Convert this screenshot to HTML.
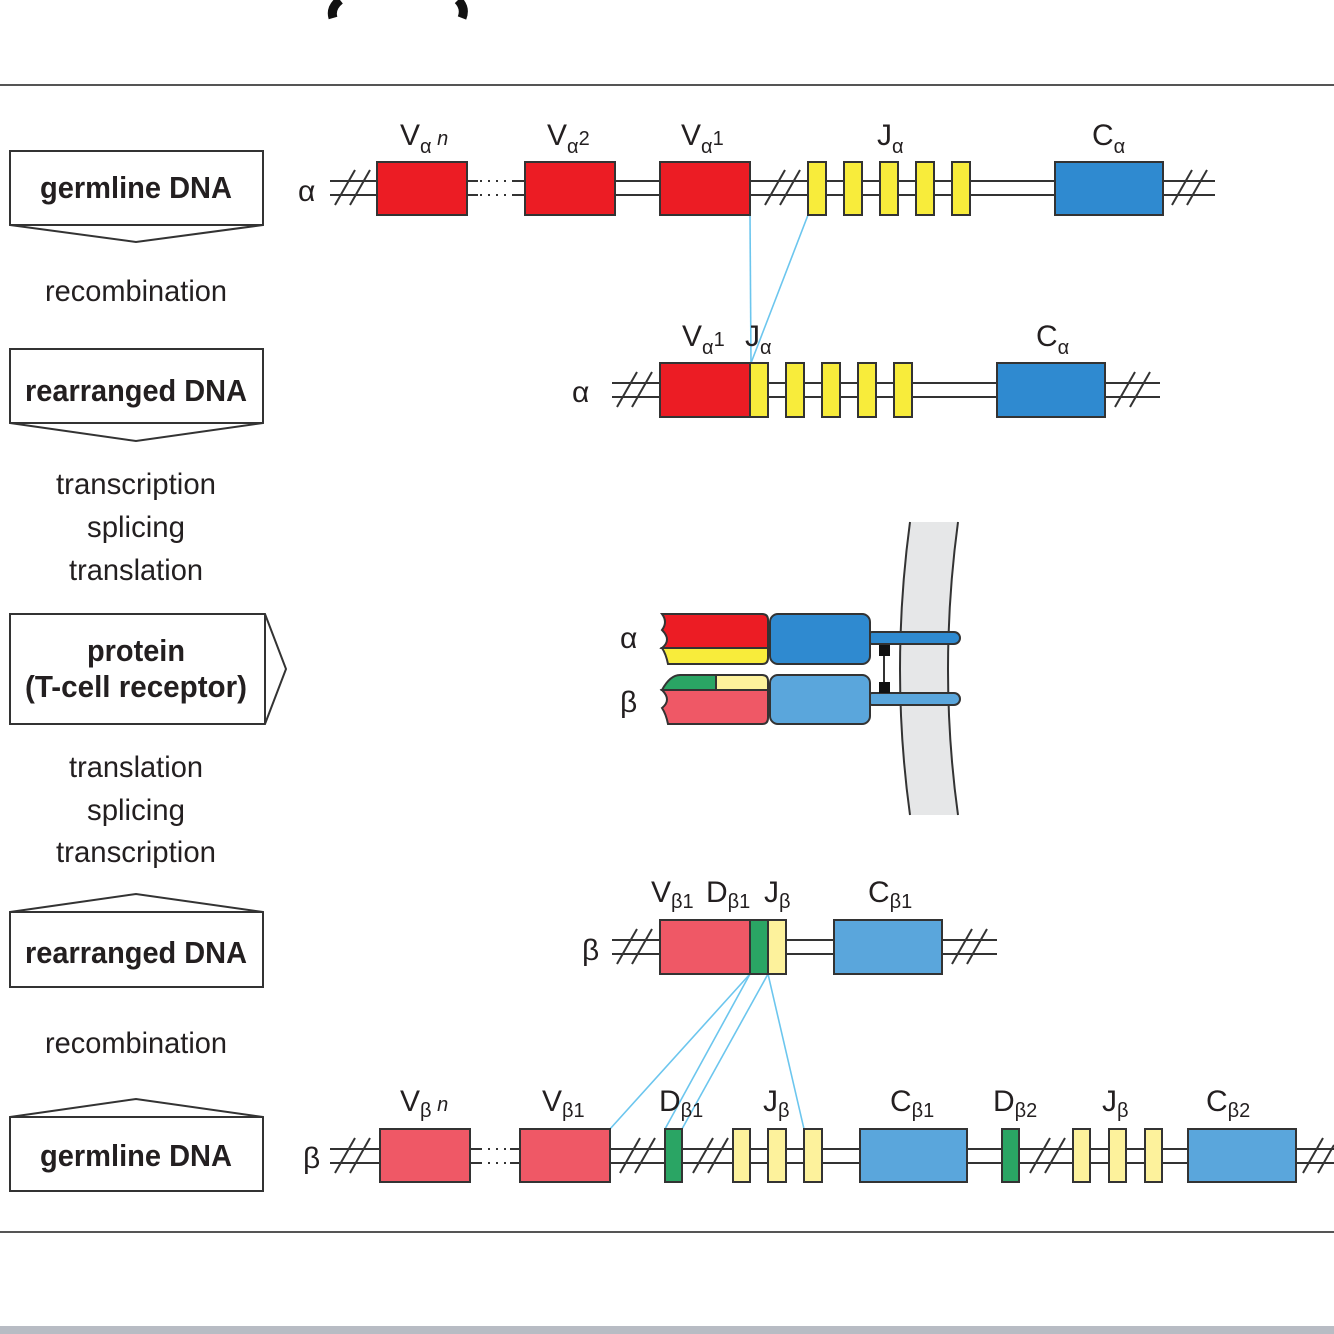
<!DOCTYPE html>
<html><head><meta charset="utf-8"><style>
html,body{margin:0;padding:0;background:#fff;}
svg{display:block;}
text{font-family:"Liberation Sans Narrow","Liberation Sans",sans-serif;fill:#231f20;}
.b{font-weight:bold;font-size:31px;}
.n{font-size:30px;}
.l{font-size:30px;}
.s{font-size:20px;}
</style></head><body>
<svg width="1334" height="1334" viewBox="0 0 1334 1334" xmlns="http://www.w3.org/2000/svg">
<rect width="1334" height="1334" fill="#fff"/>
<!-- top partial parens -->
<path d="M340 0 Q330 8 333 18" stroke="#111" stroke-width="9" fill="none"/>
<path d="M458 0 Q466 8 462 18" stroke="#111" stroke-width="9" fill="none"/>
<line x1="0" y1="85" x2="1334" y2="85" stroke="#555" stroke-width="2"/>
<line x1="0" y1="1232" x2="1334" y2="1232" stroke="#555" stroke-width="2"/>
<rect x="0" y="1326" width="1334" height="8" fill="#b8bcc4"/>

<!-- left boxes -->
<g fill="#fff" stroke="#333" stroke-width="2">
<path d="M10 151 H263 V225 L136 242 L10 225 Z"/>
<line x1="10" y1="225" x2="263" y2="225"/>
<path d="M10 349 H263 V423 L136 441 L10 423 Z"/>
<line x1="10" y1="423" x2="263" y2="423"/>
<path d="M10 614 H265 L286 669 L265 724 H10 Z"/>
<line x1="265" y1="614" x2="265" y2="724"/>
<path d="M10 912 L136 894 L263 912 V987 H10 Z"/>
<line x1="10" y1="912" x2="263" y2="912"/>
<path d="M10 1117 L136 1099 L263 1117 V1191 H10 Z"/>
<line x1="10" y1="1117" x2="263" y2="1117"/>
</g>
<text class="b" x="136" y="198" text-anchor="middle" textLength="192" lengthAdjust="spacingAndGlyphs">germline DNA</text>
<text class="n" x="136" y="301" text-anchor="middle" textLength="182" lengthAdjust="spacingAndGlyphs">recombination</text>
<text class="b" x="136" y="401" text-anchor="middle" textLength="222" lengthAdjust="spacingAndGlyphs">rearranged DNA</text>
<text class="n" x="136" y="494" text-anchor="middle" textLength="160" lengthAdjust="spacingAndGlyphs">transcription</text>
<text class="n" x="136" y="537" text-anchor="middle" textLength="98" lengthAdjust="spacingAndGlyphs">splicing</text>
<text class="n" x="136" y="580" text-anchor="middle" textLength="134" lengthAdjust="spacingAndGlyphs">translation</text>
<text class="b" x="136" y="661" text-anchor="middle" textLength="98" lengthAdjust="spacingAndGlyphs">protein</text>
<text class="b" x="136" y="697" text-anchor="middle" textLength="222" lengthAdjust="spacingAndGlyphs">(T-cell receptor)</text>
<text class="n" x="136" y="777" text-anchor="middle" textLength="134" lengthAdjust="spacingAndGlyphs">translation</text>
<text class="n" x="136" y="820" text-anchor="middle" textLength="98" lengthAdjust="spacingAndGlyphs">splicing</text>
<text class="n" x="136" y="862" text-anchor="middle" textLength="160" lengthAdjust="spacingAndGlyphs">transcription</text>
<text class="b" x="136" y="963" text-anchor="middle" textLength="222" lengthAdjust="spacingAndGlyphs">rearranged DNA</text>
<text class="n" x="136" y="1053" text-anchor="middle" textLength="182" lengthAdjust="spacingAndGlyphs">recombination</text>
<text class="b" x="136" y="1166" text-anchor="middle" textLength="192" lengthAdjust="spacingAndGlyphs">germline DNA</text>

<!-- blue connectors -->
<g stroke="#6cc6ee" stroke-width="1.6">
<line x1="750" y1="215" x2="751" y2="363"/>
<line x1="808" y1="215" x2="751" y2="363"/>
<line x1="750" y1="974" x2="610" y2="1129"/>
<line x1="750" y1="974" x2="665" y2="1129"/>
<line x1="768" y1="974" x2="682" y2="1129"/>
<line x1="768" y1="974" x2="804" y2="1129"/>
</g>

<g stroke="#333" stroke-width="2" fill="none">
<!-- alpha germline DNA lines y=181,195 -->
<path d="M330 181 H377 M330 195 H377 M615 181 H660 M615 195 H660 M750 181 H1215 M750 195 H1215"/>
<path d="M467 181 H478 M467 195 H478 M512 181 H525 M512 195 H525"/>
<path d="M335 205 L355 170 M350 205 L370 170 M765 205 L785 170 M780 205 L800 170 M1172 205 L1192 170 M1187 205 L1207 170"/>
<!-- alpha rearranged y=383,397 -->
<path d="M612 383 H1160 M612 397 H1160"/>
<path d="M617 407 L637 372 M632 407 L652 372 M1115 407 L1135 372 M1130 407 L1150 372"/>
<!-- beta rearranged y=940,954 -->
<path d="M612 940 H997 M612 954 H997"/>
<path d="M617 964 L637 929 M632 964 L652 929 M952 964 L972 929 M967 964 L987 929"/>
<!-- beta germline y=1149,1163 -->
<path d="M330 1149 H380 M330 1163 H380 M610 1149 H1334 M610 1163 H1334"/>
<path d="M470 1149 H480 M470 1163 H480 M510 1149 H520 M510 1163 H520"/>
<path d="M335 1173 L355 1138 M350 1173 L370 1138 M620 1173 L640 1138 M635 1173 L655 1138 M693 1173 L713 1138 M708 1173 L728 1138 M1030 1173 L1050 1138 M1045 1173 L1065 1138 M1303 1173 L1323 1138 M1318 1173 L1334 1145"/>
</g>
<g stroke="#333" stroke-width="2" stroke-dasharray="2 6">
<path d="M480 181 H512 M480 195 H512 M480 1149 H510 M480 1163 H510"/>
</g>
<!-- white gaps for breaks (cover lines between slashes) -->

<g stroke="#333" stroke-width="2">
<!-- alpha germline boxes -->
<rect x="377" y="162" width="90" height="53" fill="#ec1c24"/>
<rect x="525" y="162" width="90" height="53" fill="#ec1c24"/>
<rect x="660" y="162" width="90" height="53" fill="#ec1c24"/>
<rect x="808" y="162" width="18" height="53" fill="#f8ec3b"/>
<rect x="844" y="162" width="18" height="53" fill="#f8ec3b"/>
<rect x="880" y="162" width="18" height="53" fill="#f8ec3b"/>
<rect x="916" y="162" width="18" height="53" fill="#f8ec3b"/>
<rect x="952" y="162" width="18" height="53" fill="#f8ec3b"/>
<rect x="1055" y="162" width="108" height="53" fill="#2f8ad0"/>
<!-- alpha rearranged -->
<rect x="660" y="363" width="90" height="54" fill="#ec1c24"/>
<rect x="750" y="363" width="18" height="54" fill="#f8ec3b"/>
<rect x="786" y="363" width="18" height="54" fill="#f8ec3b"/>
<rect x="822" y="363" width="18" height="54" fill="#f8ec3b"/>
<rect x="858" y="363" width="18" height="54" fill="#f8ec3b"/>
<rect x="894" y="363" width="18" height="54" fill="#f8ec3b"/>
<rect x="997" y="363" width="108" height="54" fill="#2f8ad0"/>
<!-- beta rearranged -->
<rect x="660" y="920" width="90" height="54" fill="#ef5866"/>
<rect x="750" y="920" width="18" height="54" fill="#2aa564"/>
<rect x="768" y="920" width="18" height="54" fill="#fdf29c"/>
<rect x="834" y="920" width="108" height="54" fill="#5aa6dc"/>
<!-- beta germline -->
<rect x="380" y="1129" width="90" height="53" fill="#ef5866"/>
<rect x="520" y="1129" width="90" height="53" fill="#ef5866"/>
<rect x="665" y="1129" width="17" height="53" fill="#2aa564"/>
<rect x="733" y="1129" width="17" height="53" fill="#fdf29c"/>
<rect x="768" y="1129" width="18" height="53" fill="#fdf29c"/>
<rect x="804" y="1129" width="18" height="53" fill="#fdf29c"/>
<rect x="860" y="1129" width="107" height="53" fill="#5aa6dc"/>
<rect x="1002" y="1129" width="17" height="53" fill="#2aa564"/>
<rect x="1073" y="1129" width="17" height="53" fill="#fdf29c"/>
<rect x="1109" y="1129" width="17" height="53" fill="#fdf29c"/>
<rect x="1145" y="1129" width="17" height="53" fill="#fdf29c"/>
<rect x="1188" y="1129" width="108" height="53" fill="#5aa6dc"/>
</g>

<!-- gene labels -->
<g class="l">
<text x="298" y="201" class="l">α</text>
<text x="400" y="145" class="l">V<tspan class="s" dy="8">α</tspan><tspan class="s" dy="-8" font-style="italic"> n</tspan></text>
<text x="547" y="145" class="l">V<tspan class="s" dy="8">α</tspan><tspan class="s" dy="-8">2</tspan></text>
<text x="681" y="145" class="l">V<tspan class="s" dy="8">α</tspan><tspan class="s" dy="-8">1</tspan></text>
<text x="877" y="145" class="l">J<tspan class="s" dy="8">α</tspan></text>
<text x="1092" y="145" class="l">C<tspan class="s" dy="8">α</tspan></text>

<text x="572" y="402" class="l">α</text>
<text x="682" y="346" class="l">V<tspan class="s" dy="8">α</tspan><tspan class="s" dy="-8">1</tspan></text>
<text x="745" y="346" class="l">J<tspan class="s" dy="8">α</tspan></text>
<text x="1036" y="346" class="l">C<tspan class="s" dy="8">α</tspan></text>

<text x="620" y="648" class="l">α</text>
<text x="620" y="712" class="l">β</text>

<text x="582" y="960" class="l">β</text>
<text x="651" y="902" class="l">V<tspan class="s" dy="6">β1</tspan></text>
<text x="706" y="902" class="l">D<tspan class="s" dy="6">β1</tspan></text>
<text x="764" y="902" class="l">J<tspan class="s" dy="6">β</tspan></text>
<text x="868" y="902" class="l">C<tspan class="s" dy="6">β1</tspan></text>

<text x="303" y="1168" class="l">β</text>
<text x="400" y="1111" class="l">V<tspan class="s" dy="6">β</tspan><tspan class="s" dy="-6" font-style="italic"> n</tspan></text>
<text x="542" y="1111" class="l">V<tspan class="s" dy="6">β1</tspan></text>
<text x="659" y="1111" class="l">D<tspan class="s" dy="6">β1</tspan></text>
<text x="763" y="1111" class="l">J<tspan class="s" dy="6">β</tspan></text>
<text x="890" y="1111" class="l">C<tspan class="s" dy="6">β1</tspan></text>
<text x="993" y="1111" class="l">D<tspan class="s" dy="6">β2</tspan></text>
<text x="1102" y="1111" class="l">J<tspan class="s" dy="6">β</tspan></text>
<text x="1206" y="1111" class="l">C<tspan class="s" dy="6">β2</tspan></text>
</g>

<!-- membrane -->
<path d="M910 522 Q890 670 910 815 L958 815 Q938 670 958 522 Z" fill="#e6e7e8"/>
<path d="M910 522 Q890 670 910 815 M958 522 Q938 670 958 815" stroke="#333" stroke-width="2" fill="none"/>

<!-- TCR -->
<g stroke="#333" stroke-width="2">
<rect x="866" y="632" width="94" height="12" rx="6" fill="#2f8ad0"/>
<rect x="866" y="693" width="94" height="12" rx="6" fill="#5aa6dc"/>
<path d="M662 614 H762 Q768 614 768 620 V648 H662 Q672 640 662 630 Q668 622 662 614 Z" fill="#ec1c24"/>
<path d="M662 648 H768 V658 Q768 664 762 664 H668 Q666 654 662 648 Z" fill="#f8ec3b"/>
<rect x="770" y="614" width="100" height="50" rx="8" fill="#2f8ad0"/>
<path d="M662 690 Q670 675 680 675 H716 V690 Z" fill="#2aa564"/>
<path d="M716 675 H762 Q768 675 768 681 V690 H716 Z" fill="#fdf29c"/>
<path d="M662 690 H768 V718 Q768 724 762 724 H668 Q666 714 662 708 Q672 700 662 690 Z" fill="#ef5866"/>
<rect x="770" y="675" width="100" height="49" rx="8" fill="#5aa6dc"/>
<line x1="884" y1="651" x2="884" y2="687"/>
</g>
<rect x="879" y="645" width="11" height="11" fill="#111"/>
<rect x="879" y="682" width="11" height="11" fill="#111"/>
</svg>
</body></html>
